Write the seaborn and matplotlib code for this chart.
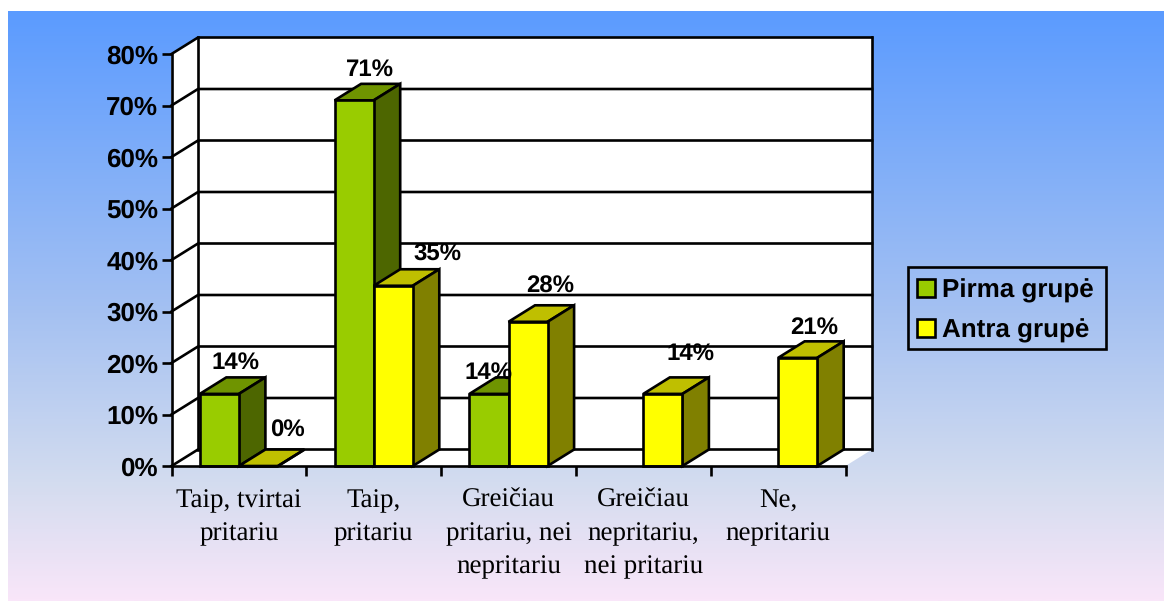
import numpy as np
import pandas as pd
import matplotlib
matplotlib.use("Agg")
import matplotlib.pyplot as plt
from matplotlib.colors import LinearSegmentedColormap
from matplotlib.patches import Patch, Polygon, Rectangle
import seaborn as sns

# ---- data ----
categories = ["Taip, tvirtai\npritariu", "Taip,\npritariu", "Greičiau\npritariu, nei\nnepritariu",
              "Greičiau\nnepritariu,\nnei pritariu", "Ne,\nnepritariu"]
series_names = ["Pirma grupė", "Antra grupė"]
pirma_values = [14, 71, 14, np.nan, np.nan]
antra_values = [0, 35, 28, 14, 21]
y_ticks = [0, 10, 20, 30, 40, 50, 60, 70, 80]

# ---- style / layout ----
W, H = 1164, 601
LW = 1.9
AX_L, AX_R, AX_T, AX_B = 171.5, 845.5, 54, 466
DEPTH_X = 26.5 / ((AX_R - AX_L) / 5)     # category units
DEPTH_Y = 16.5 / ((AX_B - AX_T) / 80)    # percent units
faces = {
    series_names[0]: dict(front="#99CC00", top="#6F9400", side="#4D6600"),
    series_names[1]: dict(front="#FFFF00", top="#BFBF00", side="#808000"),
}
label_offsets = {  # pixel offset of each value label from the bar's top-front centre
    series_names[0]: [(16, 31), (15.5, 31), (0, 21), None, None],
    series_names[1]: [(29, 35), (44, 31), (22, 35), (28, 40), (17, 30)],
}
sans = "Liberation Sans"
serif = "Liberation Serif"

sns.set_theme(style="white")
plt.rcParams["font.family"] = ["Liberation Sans", "DejaVu Sans"]
plt.rcParams["text.color"] = "black"
plt.rcParams["text.hinting"] = "no_hinting"
plt.rcParams["text.hinting_factor"] = 1

fig = plt.figure(figsize=(W / 100, H / 100), dpi=100, facecolor="white")

# gradient background
bg = fig.add_axes([8 / W, 0, 1 - 8 / W, 1 - 11 / H], zorder=-10)
cmap = LinearSegmentedColormap.from_list(
    "bg", [(0, "#5B9BFF"), (0.5, "#A3C0F2"), (0.8, "#D3DCEF"), (1, "#F9E6F9")])
bg.imshow(np.linspace(0, 1, 512)[:, None], cmap=cmap, aspect="auto", vmin=0, vmax=1)
bg.axis("off")

ax = fig.add_axes([AX_L / W, 1 - AX_B / H, (AX_R - AX_L) / W, (AX_B - AX_T) / H])
ax.patch.set_alpha(0)

df = pd.DataFrame({
    "category": categories * 2,
    "group": [series_names[0]] * 5 + [series_names[1]] * 5,
    "value": pirma_values + antra_values,
})
sns.barplot(data=df, x="category", y="value", hue="group", order=categories, hue_order=series_names,
            palette={k: v["front"] for k, v in faces.items()}, width=0.58, gap=0, saturation=1,
            edgecolor="black", linewidth=LW, legend=False, ax=ax)

ax.set_xlim(-0.5, 4.5)
ax.set_ylim(0, 80)
x0, x1 = -0.5, 4.5


def poly(points, color, z, edge="black"):
    ax.add_patch(Polygon(points, closed=True, facecolor=color, edgecolor=edge, linewidth=LW,
                         joinstyle="miter", clip_on=False, zorder=z))


# walls and floor
poly([(x0, 0), (x0 + DEPTH_X, DEPTH_Y), (x0 + DEPTH_X, 80 + DEPTH_Y), (x0, 80)], "white", 0.5, "none")
poly([(x0 + DEPTH_X, DEPTH_Y), (x1 + DEPTH_X, DEPTH_Y), (x1 + DEPTH_X, 80 + DEPTH_Y),
      (x0 + DEPTH_X, 80 + DEPTH_Y)], "white", 0.5, "none")
poly([(x0, 0), (x1, 0), (x1 + DEPTH_X, DEPTH_Y), (x0 + DEPTH_X, DEPTH_Y)], "white", 0.5, "none")
line = dict(color="black", lw=LW, clip_on=False, zorder=0.7, solid_capstyle="projecting")
for v in y_ticks:
    ax.plot([x0, x0 + DEPTH_X, x1 + DEPTH_X], [v, v + DEPTH_Y, v + DEPTH_Y], **line)
ax.plot([x0 + DEPTH_X] * 2, [DEPTH_Y, 80 + DEPTH_Y], **line)
ax.plot([x1 + DEPTH_X] * 2, [DEPTH_Y, 80 + DEPTH_Y], **line)

# 3-D faces of the bars, built from the bars seaborn drew
z = 3.0
for cat_i in range(len(categories)):
    for name, container in zip(series_names, ax.containers):
        for bar in container:
            bx, bw, bh = bar.get_x(), bar.get_width(), bar.get_height()
            if not np.isfinite(bh) or round(bx + bw / 2 + 0.29 * (0.5 if name == series_names[0] else -0.5)) != cat_i:
                continue
            poly([(bx, bh), (bx + DEPTH_X, bh + DEPTH_Y), (bx + bw + DEPTH_X, bh + DEPTH_Y), (bx + bw, bh)],
                 faces[name]["top"], z)
            poly([(bx + bw, 0), (bx + bw + DEPTH_X, DEPTH_Y), (bx + bw + DEPTH_X, bh + DEPTH_Y), (bx + bw, bh)],
                 faces[name]["side"], z)
            bar.set_zorder(z + 0.1)
            bar.set_clip_on(False)
            bar.set_joinstyle("miter")
            z += 1

# value labels
for name, values in zip(series_names, [pirma_values, antra_values]):
    for i, v in enumerate(values):
        if np.isnan(v):
            continue
        sign = -0.145 if name == series_names[0] else 0.145
        ax.annotate(f"{v:.0f}%", xy=(i + sign, v), xytext=label_offsets[name][i], textcoords="offset pixels",
                    ha="center", va="center", fontsize=17, fontweight="bold", family=sans, color="black",
                    zorder=200, annotation_clip=False)

# axes
sns.despine(ax=ax, top=True, right=True)
for s in ("left", "bottom"):
    ax.spines[s].set_linewidth(LW)
    ax.spines[s].set_color("black")
    ax.spines[s].set_zorder(150 if s == "bottom" else 2)
ax.set_xlabel("")
ax.set_ylabel("")
ax.set_yticks(y_ticks)
ax.set_yticklabels([f"{v}%" for v in y_ticks], fontsize=18.6, fontweight="bold", family=sans, color="black")
ax.tick_params(axis="y", left=True, length=7, width=LW, color="black", pad=2.5)
ax.set_xticks(range(5))
ax.set_xticklabels(categories, fontsize=19.5, family=serif, color="black", linespacing=1.46)
ax.set_xticks(np.arange(-0.5, 5), minor=True)
ax.tick_params(axis="x", which="major", bottom=False, length=0, pad=16)
ax.tick_params(axis="x", which="minor", bottom=True, length=7, width=LW, color="black")

# legend
fig.add_artist(Rectangle((908 / W, 1 - 349 / H), (1106 - 908) / W, (349 - 267) / H, transform=fig.transFigure,
                         facecolor="none", edgecolor="black", linewidth=LW, joinstyle="miter"))
handles = [Patch(facecolor=faces[n]["front"], edgecolor="black", linewidth=LW) for n in series_names]
leg = fig.legend(handles, series_names, loc="upper left", bbox_to_anchor=(917 / W, 1 - 278.5 / H),
                 bbox_transform=fig.transFigure, borderaxespad=0, borderpad=0, frameon=False,
                 prop=dict(family=sans, weight="bold", size=19),
                 handlelength=0.68, handleheight=0.68, handletextpad=0.28, labelspacing=0.6,
                 labelcolor="black")

fig.savefig("out.png", dpi=100, facecolor="white")
